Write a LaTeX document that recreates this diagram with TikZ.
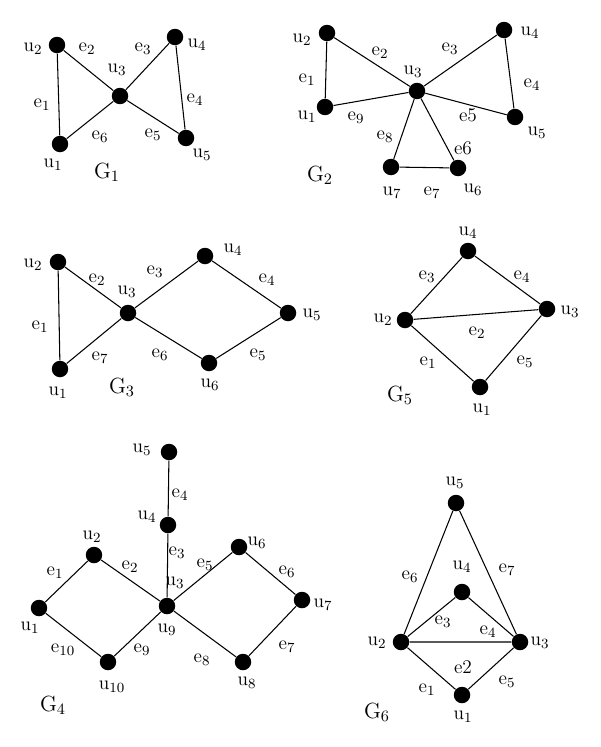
\documentclass[tikz,border=0pt]{standalone}
\usepackage{tikz}
\newcommand{\vu}[1]{u$_{#1}$}
\newcommand{\ve}[1]{e$_{#1}$}
\newcommand{\gn}[1]{G$_{#1}$}

\begin{document}
\begin{tikzpicture}[
  x=0.02cm, y=-0.02cm,
  dot/.style ={circle, fill=black, inner sep=0pt, minimum size=3.3mm},
  lbl/.style ={inner sep=1pt, font=\fontsize{11}{12}\selectfont},
  gl/.style  ={inner sep=1pt, font=\fontsize{12.5}{14}\selectfont},
  ed/.style  ={line width=0.6pt}
]
\useasboundingbox (0,0) rectangle (600,747);

% =============== G1 ===============
\node[dot] (a1) at (60,144) {};
\node[dot] (a2) at (57,45)  {};
\node[dot] (a3) at (120,96) {};
\node[dot] (a4) at (175,37) {};
\node[dot] (a5) at (186,138) {};
\draw[ed] (a1) -- (a2) -- (a3) -- (a4) -- (a5) -- (a3) -- (a1);
\node[lbl] (la1) at (53,165) {\vu{1}};
\node[lbl] (la2) at (33,49)  {\vu{2}};
\node[lbl] (la3) at (117,70) {\vu{3}};
\node[lbl] (la4) at (197,45) {\vu{4}};
\node[lbl] (la5) at (202,155) {\vu{5}};
\node[lbl] (ea1) at (42,105) {\ve{1}};
\node[lbl] (ea2) at (87,49)  {\ve{2}};
\node[lbl] (ea3) at (143,49) {\ve{3}};
\node[lbl] (ea4) at (195,100) {\ve{4}};
\node[lbl] (ea5) at (153,135) {\ve{5}};
\node[lbl] (ea6) at (100,137) {\ve{6}};
\node[gl]  (ga)  at (107,172) {\gn{1}};

% =============== G2 ===============
\node[dot] (b1) at (325,107) {};
\node[dot] (b2) at (327,33)  {};
\node[dot] (b3) at (417,91)  {};
\node[dot] (b4) at (504,30)  {};
\node[dot] (b5) at (515,117) {};
\node[dot] (b6) at (458,168) {};
\node[dot] (b7) at (391,167) {};
\draw[ed] (b1) -- (b2) -- (b3) -- (b4) -- (b5) -- (b3) -- (b1);
\draw[ed] (b3) -- (b6) -- (b7) -- (b3);
\node[lbl] (lb1) at (307,117) {\vu{1}};
\node[lbl] (lb2) at (302,40)  {\vu{2}};
\node[lbl] (lb3) at (413,72)  {\vu{3}};
\node[lbl] (lb4) at (530,33)  {\vu{4}};
\node[lbl] (lb5) at (537,133) {\vu{5}};
\node[lbl] (lb6) at (473,190) {\vu{6}};
\node[lbl] (lb7) at (392,193) {\vu{7}};
\node[lbl] (eb1) at (307,80)  {\ve{1}};
\node[lbl] (eb2) at (380,53)  {\ve{2}};
\node[lbl] (eb3) at (450,49)  {\ve{3}};
\node[lbl] (eb4) at (532,85)  {\ve{4}};
\node[lbl] (eb5) at (468,115) {e5};
\node[lbl] (eb6) at (463,148) {e6};
\node[lbl] (eb7) at (432,193) {\ve{7}};
\node[lbl] (eb8) at (385,137) {\ve{8}};
\node[lbl] (eb9) at (356,118) {\ve{9}};
\node[gl]  (gb)  at (320,175) {\gn{2}};

% =============== G3 ===============
\node[dot] (c1) at (60,369)  {};
\node[dot] (c2) at (58,262)  {};
\node[dot] (c3) at (128,313) {};
\node[dot] (c4) at (205,256) {};
\node[dot] (c5) at (288,313) {};
\node[dot] (c6) at (209,363) {};
\draw[ed] (c1) -- (c2) -- (c3) -- (c4) -- (c5) -- (c6) -- (c3) -- (c1);
\node[lbl] (lc1) at (58,393)  {\vu{1}};
\node[lbl] (lc2) at (33,265)  {\vu{2}};
\node[lbl] (lc3) at (127,292) {\vu{3}};
\node[lbl] (lc4) at (233,250) {\vu{4}};
\node[lbl] (lc5) at (312,315) {\vu{5}};
\node[lbl] (lc6) at (210,385) {\vu{6}};
\node[lbl] (ec1) at (40,327)  {\ve{1}};
\node[lbl] (ec2) at (97,280)  {\ve{2}};
\node[lbl] (ec3) at (155,272) {\ve{3}};
\node[lbl] (ec4) at (267,280) {\ve{4}};
\node[lbl] (ec5) at (258,355) {\ve{5}};
\node[lbl] (ec6) at (160,355) {\ve{6}};
\node[lbl] (ec7) at (100,358) {\ve{7}};
\node[gl]  (gc)  at (122,387) {\gn{3}};

% =============== G5 ===============
\node[dot] (d1) at (480,387) {};
\node[dot] (d2) at (405,320) {};
\node[dot] (d3) at (547,309) {};
\node[dot] (d4) at (468,251) {};
\draw[ed] (d1) -- (d2) -- (d4) -- (d3) -- (d1);
\draw[ed] (d2) -- (d3);
\node[lbl] (ld1) at (482,410) {\vu{1}};
\node[lbl] (ld2) at (383,320) {\vu{2}};
\node[lbl] (ld3) at (570,312) {\vu{3}};
\node[lbl] (ld4) at (468,233) {\vu{4}};
\node[lbl] (ed1) at (428,363) {\ve{1}};
\node[lbl] (ed2) at (477,333) {\ve{2}};
\node[lbl] (ed3) at (427,277) {\ve{3}};
\node[lbl] (ed4) at (522,277) {\ve{4}};
\node[lbl] (ed5) at (525,362) {\ve{5}};
\node[gl]  (gd)  at (400,395) {\gn{5}};

% =============== G4 ===============
\node[dot] (f1)  at (39,608)  {};
\node[dot] (f2)  at (94,555)  {};
\node[dot] (f3)  at (167,606) {};
\node[dot] (f4)  at (168,525) {};
\node[dot] (f5)  at (169,452) {};
\node[dot] (f6)  at (239,547) {};
\node[dot] (f7)  at (302,600) {};
\node[dot] (f8)  at (243,662) {};
\node[dot] (f10) at (108,662) {};
\draw[ed] (f1) -- (f2) -- (f3) -- (f10) -- (f1);
\draw[ed] (f3) -- (f6) -- (f7) -- (f8) -- (f3);
\draw[ed] (f3) -- (f4) -- (f5);
\node[lbl] (lf1)  at (30,628)  {\vu{1}};
\node[lbl] (lf2)  at (92,537)  {\vu{2}};
\node[lbl] (lf3)  at (175,583) {\vu{3}};
\node[lbl] (lf4)  at (147,517) {\vu{4}};
\node[lbl] (lf5)  at (142,450) {\vu{5}};
\node[lbl] (lf6)  at (257,543) {\vu{6}};
\node[lbl] (lf7)  at (323,605) {\vu{7}};
\node[lbl] (lf8)  at (247,683) {\vu{8}};
\node[lbl] (lf9)  at (167,630) {\vu{9}};
\node[lbl] (lf10) at (112,687) {\vu{10}};
\node[lbl] (ef1)  at (55,573)  {\ve{1}};
\node[lbl] (ef2)  at (130,567) {\ve{2}};
\node[lbl] (ef3)  at (177,553) {\ve{3}};
\node[lbl] (ef4)  at (180,495) {\ve{4}};
\node[lbl] (ef5)  at (205,565) {\ve{5}};
\node[lbl] (ef6)  at (287,572) {\ve{6}};
\node[lbl] (ef7)  at (287,647) {\ve{7}};
\node[lbl] (ef8)  at (202,660) {\ve{8}};
\node[lbl] (ef9)  at (142,650) {\ve{9}};
\node[lbl] (ef10) at (63,650)  {\ve{10}};
\node[gl]  (gf)   at (53,705)  {\gn{4}};

% =============== G6 ===============
\node[dot] (h1) at (462,695) {};
\node[dot] (h2) at (401,642) {};
\node[dot] (h3) at (520,642) {};
\node[dot] (h4) at (462,592) {};
\node[dot] (h5) at (456,503) {};
\draw[ed] (h1) -- (h2) -- (h3) -- (h1);
\draw[ed] (h2) -- (h4) -- (h3) -- (h5) -- (h2);
\node[lbl] (lh1) at (463,717) {\vu{1}};
\node[lbl] (lh2) at (377,643) {\vu{2}};
\node[lbl] (lh3) at (540,643) {\vu{3}};
\node[lbl] (lh4) at (462,567) {\vu{4}};
\node[lbl] (lh5) at (455,483) {\vu{5}};
\node[lbl] (eh1) at (427,690) {\ve{1}};
\node[lbl] (eh2) at (463,667) {e2};
\node[lbl] (eh3) at (443,622) {\ve{3}};
\node[lbl] (eh4) at (488,632) {\ve{4}};
\node[lbl] (eh5) at (507,682) {\ve{5}};
\node[lbl] (eh6) at (410,577) {\ve{6}};
\node[lbl] (eh7) at (507,570) {\ve{7}};
\node[gl]  (gh)  at (377,712) {\gn{6}};
\end{tikzpicture}
\end{document}
